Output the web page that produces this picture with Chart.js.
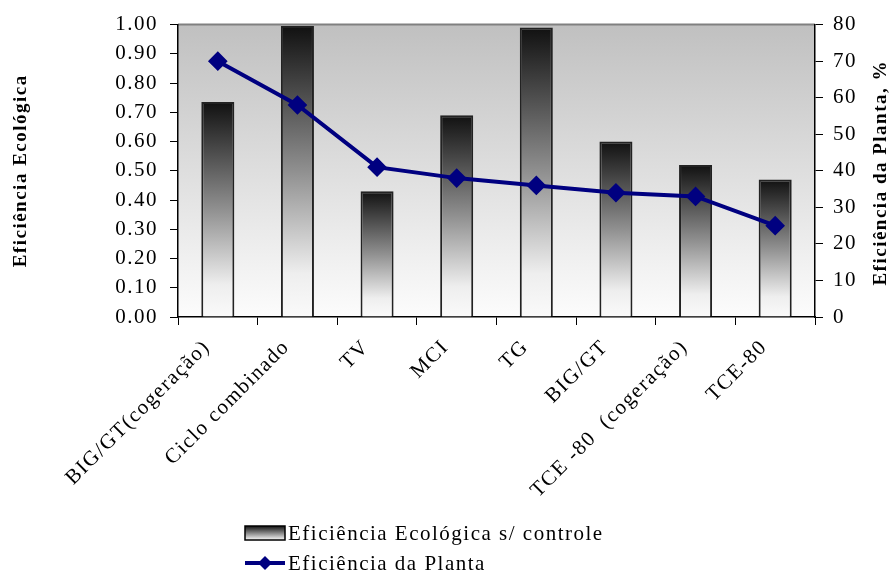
<!DOCTYPE html>
<html lang="pt">
<head>
<meta charset="utf-8">
<title>Eficiência Ecológica</title>
<script src="https://cdn.jsdelivr.net/npm/chart.js@4.4.1/dist/chart.umd.min.js"></script>
<style>
  body { margin: 0; background: #fff; }
</style>
</head>
<body>
<canvas id="grafico" width="893" height="583"></canvas>
<script>
// Dados do gráfico
const categorias = ['BIG/GT(cogeração)', 'Ciclo combinado', 'TV', 'MCI', 'TG', 'BIG/GT', 'TCE -80  (cogeração)', 'TCE-80'];
const eficienciaEcologica = [0.735, 0.995, 0.43, 0.69, 0.99, 0.60, 0.52, 0.47];
const eficienciaPlanta = [70, 58, 41, 38, 36, 34, 33, 25];

const fonte = 'Liberation Serif, Times New Roman, serif';
const azul = '#000080';

// Degradê preto -> branco de cada barra
function gradienteBarra(context) {
    const chart = context.chart;
    const escala = chart.scales.y;
    if (!escala || context.dataIndex === undefined) return '#808080';
    const topo = escala.getPixelForValue(eficienciaEcologica[context.dataIndex]);
    const base = escala.getPixelForValue(0);
    if (!Number.isFinite(topo) || !Number.isFinite(base) || topo === base) return '#808080';
    const g = chart.ctx.createLinearGradient(0, topo, 0, base);
    g.addColorStop(0, '#111111');
    g.addColorStop(0.5, '#909090');
    g.addColorStop(0.85, '#eeeeee');
    g.addColorStop(1, '#fafafa');
    return g;
}

// Fundo cinza da área do gráfico, espaçamento das letras, título direito e legenda
const pluginExtra = {
    id: 'pluginExtra',
    beforeUpdate(chart) {
        chart.ctx.letterSpacing = '1.5px';
    },
    beforeDraw(chart) {
        const { ctx, chartArea: a } = chart;
        ctx.letterSpacing = '1.5px';
        ctx.save();
        const g = ctx.createLinearGradient(0, a.top, 0, a.bottom);
        g.addColorStop(0, '#c0c0c0');
        g.addColorStop(1, '#fcfcfc');
        ctx.fillStyle = g;
        ctx.fillRect(a.left, a.top, a.right - a.left, a.bottom - a.top);
        ctx.strokeStyle = '#808080';
        ctx.lineWidth = 2;
        ctx.beginPath();
        ctx.moveTo(a.left, a.top);
        ctx.lineTo(a.right, a.top);
        ctx.stroke();
        ctx.restore();
    },
    afterDraw(chart) {
        const { ctx, chartArea: a } = chart;
        ctx.save();
        // título do eixo direito (lido de baixo para cima)
        ctx.translate(a.right + 66, (a.top + a.bottom) / 2 + 2);
        ctx.rotate(-Math.PI / 2);
        ctx.font = 'bold 19px ' + fonte;
        ctx.fillStyle = '#000';
        ctx.textAlign = 'center';
        ctx.textBaseline = 'middle';
        ctx.fillText('Eficiência da Planta, %', 0, 0);
        ctx.restore();

        // legenda
        const ds = chart.data.datasets;
        const x0 = 245;
        const y1 = 533, y2 = 563;
        ctx.save();
        const g = ctx.createLinearGradient(0, y1 - 7, 0, y1 + 7);
        g.addColorStop(0, '#111');
        g.addColorStop(1, '#fafafa');
        ctx.fillStyle = g;
        ctx.fillRect(x0, y1 - 7, 40, 14);
        ctx.strokeStyle = '#000';
        ctx.lineWidth = 1.5;
        ctx.strokeRect(x0, y1 - 7, 40, 14);

        ctx.strokeStyle = azul;
        ctx.lineWidth = 4;
        ctx.beginPath();
        ctx.moveTo(x0, y2);
        ctx.lineTo(x0 + 40, y2);
        ctx.stroke();
        ctx.fillStyle = azul;
        ctx.beginPath();
        ctx.moveTo(x0 + 20, y2 - 7);
        ctx.lineTo(x0 + 27, y2);
        ctx.lineTo(x0 + 20, y2 + 7);
        ctx.lineTo(x0 + 13, y2);
        ctx.closePath();
        ctx.fill();

        ctx.font = '21px ' + fonte;
        ctx.fillStyle = '#000';
        ctx.textAlign = 'left';
        ctx.textBaseline = 'middle';
        ctx.fillText(ds[1].label, x0 + 43, y1 + 1);
        ctx.fillText(ds[0].label, x0 + 43, y2 + 1);
        ctx.restore();
    }
};

const ctx = document.getElementById('grafico').getContext('2d');
const grafico = new Chart(ctx, {
    type: 'bar',
    data: {
        labels: categorias,
        datasets: [{
            type: 'line',
            label: 'Eficiência da Planta',
            data: eficienciaPlanta,
            yAxisID: 'y1',
            borderColor: azul,
            backgroundColor: azul,
            borderWidth: 4,
            tension: 0,
            pointStyle: 'rectRot',
            pointRadius: 7,
            pointBackgroundColor: azul,
            pointBorderColor: azul,
            order: 0
        }, {
            type: 'bar',
            label: 'Eficiência Ecológica s/ controle',
            data: eficienciaEcologica,
            yAxisID: 'y',
            backgroundColor: gradienteBarra,
            borderColor: '#222',
            borderWidth: 2,
            barPercentage: 0.415,
            categoryPercentage: 1,
            order: 1
        }]
    },
    options: {
        responsive: false,
        animation: false,
        devicePixelRatio: 1,
        layout: { padding: { top: 24 } },
        plugins: {
            legend: { display: false },
            tooltip: { enabled: false }
        },
        scales: {
            x: {
                afterFit: (s) => { s.height = 266; },
                grid: { drawOnChartArea: false, offset: true, color: '#000', tickLength: 8 },
                border: { color: '#000', width: 1.5 },
                ticks: {
                    color: '#000',
                    autoSkip: false,
                    minRotation: 45,
                    maxRotation: 45,
                    padding: 10,
                    labelOffset: -11,
                    font: { family: fonte, size: 21 }
                }
            },
            y: {
                position: 'left',
                min: 0,
                max: 1,
                afterFit: (s) => { s.width = 178; },
                grid: { drawOnChartArea: false, color: '#000', tickLength: 8 },
                border: { color: '#000', width: 1.5 },
                ticks: {
                    stepSize: 0.1,
                    color: '#000',
                    padding: 12,
                    font: { family: fonte, size: 21 },
                    callback: (v) => v.toFixed(2)
                },
                title: {
                    display: true,
                    text: 'Eficiência Ecológica',
                    color: '#000',
                    padding: { top: 10, bottom: 0 },
                    font: { family: fonte, size: 19, weight: 'bold' }
                }
            },
            y1: {
                position: 'right',
                min: 0,
                max: 80,
                afterFit: (s) => { s.width = 78; },
                grid: { drawOnChartArea: false, color: '#000', tickLength: 8 },
                border: { color: '#000', width: 1.5 },
                ticks: {
                    stepSize: 10,
                    color: '#000',
                    padding: 10,
                    font: { family: fonte, size: 21 }
                }
            }
        }
    },
    plugins: [pluginExtra]
});
</script>
</body>
</html>
